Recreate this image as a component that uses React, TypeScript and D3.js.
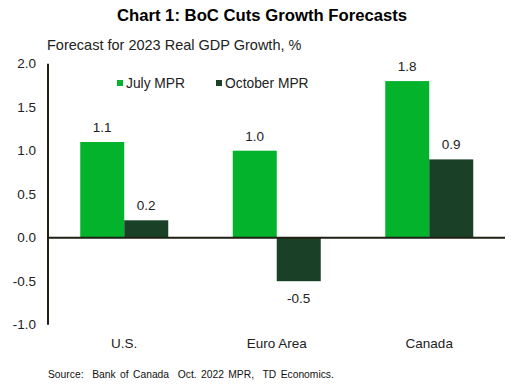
import { useEffect, useRef } from "react"
import * as d3 from "d3"

const categories = ["U.S.", "Euro Area", "Canada"]
const seriesNames = ["July MPR", "October MPR"]
const julyValues = [1.1, 1.0, 1.8]
const octoberValues = [0.2, -0.5, 0.9]
const yTicks = [-1.0, -0.5, 0.0, 0.5, 1.0, 1.5, 2.0]

const colors = ["#02b32b", "#1a4127"]

export default function App() {
  const svgRef = useRef(null)

  useEffect(() => {
    const width = 517
    const height = 386
    const font = "'Liberation Sans', Arial, sans-serif"

    const svg = d3.select(svgRef.current).attr("width", width).attr("height", height)
    svg.selectAll("*").remove()

    const x = d3.scaleBand().domain(categories).range([48, 505.5])
    const inner = d3.scaleBand().domain(seriesNames).range([0, 88])
    const xOffset = (x.bandwidth() - 88) / 2
    const y = d3.scaleLinear().domain([-1, 2]).range([324.7, 63.7])

    svg
      .append("text")
      .attr("x", 262)
      .attr("y", 21)
      .attr("text-anchor", "middle")
      .style("font-family", font)
      .style("font-weight", "bold")
      .style("font-size", "16.7px")
      .text("Chart 1: BoC Cuts Growth Forecasts")

    svg
      .append("text")
      .attr("x", 47)
      .attr("y", 50)
      .style("font-family", font)
      .style("font-size", "14.5px")
      .style("fill", "#222")
      .text("Forecast for 2023 Real GDP Growth, %")

    // y tick labels
    svg
      .append("g")
      .selectAll("text")
      .data(yTicks)
      .enter()
      .append("text")
      .attr("x", 36)
      .attr("y", (d) => y(d) + 4.5)
      .attr("text-anchor", "end")
      .style("font-family", font)
      .style("font-size", "13.5px")
      .style("fill", "#222")
      .text((d) => d3.format(".1f")(d).replace("−", "-"))

    const series = [julyValues, octoberValues]
    series.forEach((vals, si) => {
      const g = svg.append("g")
      g.selectAll("rect")
        .data(vals)
        .enter()
        .append("rect")
        .attr("x", (_, i) => x(categories[i])! + xOffset + inner(seriesNames[si])!)
        .attr("width", inner.bandwidth())
        .attr("y", (d) => y(Math.max(0, d)))
        .attr("height", (d) => Math.abs(y(d) - y(0)))
        .attr("fill", colors[si])

      g.selectAll("text")
        .data(vals)
        .enter()
        .append("text")
        .attr("x", (_, i) => x(categories[i])! + xOffset + inner(seriesNames[si])! + inner.bandwidth() / 2)
        .attr("y", (d) => (d >= 0 ? y(d) - 10 : y(d) + 22))
        .attr("text-anchor", "middle")
        .style("font-family", font)
        .style("font-size", "13.5px")
        .style("fill", "#222")
        .text((d) => d.toFixed(1))
    })

    // axes lines
    svg
      .append("line")
      .attr("x1", 48)
      .attr("x2", 48)
      .attr("y1", y(2))
      .attr("y2", y(-1))
      .attr("stroke", "#1f1f14")
      .attr("stroke-width", 2)
    svg
      .append("line")
      .attr("x1", 48)
      .attr("x2", 505)
      .attr("y1", y(0))
      .attr("y2", y(0))
      .attr("stroke", "#1f1f14")
      .attr("stroke-width", 2)

    // category labels
    svg
      .append("g")
      .selectAll("text")
      .data(categories)
      .enter()
      .append("text")
      .attr("x", (d) => x(d)! + x.bandwidth() / 2)
      .attr("y", 348)
      .attr("text-anchor", "middle")
      .style("font-family", font)
      .style("font-size", "13.5px")
      .style("fill", "#222")
      .text((d) => d)

    // legend
    const legendX = [117, 216]
    seriesNames.forEach((name, i) => {
      svg
        .append("rect")
        .attr("x", legendX[i])
        .attr("y", 80)
        .attr("width", 6)
        .attr("height", 6)
        .attr("fill", colors[i])
      svg
        .append("text")
        .attr("x", legendX[i] + 9)
        .attr("y", 88)
        .style("font-family", font)
        .style("font-size", "13.8px")
        .style("fill", "#222")
        .text(name)
    })

    svg
      .append("text")
      .attr("x", 48)
      .attr("y", 378)
      .style("font-family", font)
      .style("font-size", "10.3px")
      .style("fill", "#111")
      .style("word-spacing", "1.5px")
      .text("Source:  Bank of Canada  Oct. 2022 MPR,  TD Economics.")
      .attr("xml:space", "preserve")
  }, [])

  return <svg ref={svgRef} style={{ position: "absolute", left: 0, top: 0 }}></svg>
}
